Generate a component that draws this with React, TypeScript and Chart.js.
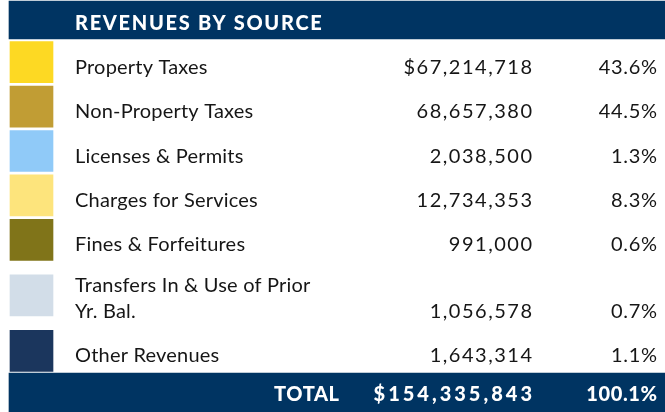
import React, { useEffect, useRef } from "react";
import { Chart, registerables } from "chart.js";

Chart.register(...registerables);

// ---- data ----
const title = "REVENUES BY SOURCE";
const categories: (string | string[])[] = [
  "Property Taxes",
  "Non-Property Taxes",
  "Licenses & Permits",
  "Charges for Services",
  "Fines & Forfeitures",
  ["Transfers In & Use of Prior", "Yr. Bal."],
  "Other Revenues",
];
const amounts = [67214718, 68657380, 2038500, 12734353, 991000, 1056578, 1643314];
const percents = [43.6, 44.5, 1.3, 8.3, 0.6, 0.7, 1.1];
const totalLabel = "TOTAL";
const totalAmount = 154335843;
const totalPercent = 100.1;

// ---- style ----
const swatchColors = ["#FDD923", "#C19D34", "#90CAF8", "#FDE47C", "#807419", "#D2DDE8", "#1B365D"];
const NAVY = "#003462";
const TEXT = "#161616";
const FONT = "Lato";

// ---- layout (canvas units) ----
const W = 665;
const H = 412;
const ROW_TOP = 40;
const ROW_UNIT = 44.4;
const LINE_H = 25.5;
const HEADER_BAND = { top: 1, bottom: 39 };
const TOTAL_BAND = { top: 373, bottom: 413 };
const TABLE_LEFT = 9;
const SWATCH_X = [10, 53];
const LABEL_X = 75;
const AMOUNT_RIGHT = 532;
const PCT_RIGHT = 657;
const TOTAL_LABEL_RIGHT = 339;

const rowLines = categories.map((c) => (Array.isArray(c) ? c.length : 1));
const rowCenters: number[] = [];
{
  let acc = ROW_TOP;
  rowLines.forEach((n) => {
    const h = ROW_UNIT * (1 + 0.5 * (n - 1));
    rowCenters.push(acc + h / 2);
    acc += h;
  });
}

const fmtAmount = (v: number, dollar: boolean) => (dollar ? "$" : "") + v.toLocaleString("en-US");
const fmtPct = (v: number) => v.toFixed(1) + "%";

function drawText(ctx: any, text: string, x: number, y: number, align: string, spacing: number) {
  ctx.letterSpacing = spacing + "px";
  ctx.textAlign = align;
  // letterSpacing adds trailing space after the last glyph; compensate for right alignment
  ctx.fillText(text, align === "right" ? x + spacing : x, y);
  ctx.letterSpacing = "0px";
}

const tablePlugin = {
  id: "tableText",
  afterDatasetsDraw(chart: any) {
    const { ctx } = chart;
    const xs = chart.scales.x;
    const ys = chart.scales.y;
    const px = (v: number) => xs.getPixelForValue(v);
    const py = (v: number) => ys.getPixelForValue(v);
    ctx.save();
    ctx.textBaseline = "alphabetic";

    // header title
    ctx.fillStyle = "#ffffff";
    ctx.font = `900 20px ${FONT}`;
    drawText(ctx, title, px(LABEL_X), py(29.5), "left", 1.7);

    // rows
    ctx.fillStyle = TEXT;
    ctx.font = `20px ${FONT}`;
    categories.forEach((cat, i) => {
      const lines = Array.isArray(cat) ? cat : [cat];
      const extra = lines.length - 1;
      const lastBase = rowCenters[i] + 11.5 + (extra * LINE_H) / 2 - extra * 2;
      lines.forEach((ln, j) => {
        drawText(ctx, ln, px(LABEL_X), py(lastBase - (lines.length - 1 - j) * LINE_H), "left", 0.2);
      });
      drawText(ctx, fmtAmount(amounts[i], i === 0), px(AMOUNT_RIGHT), py(lastBase), "right", 1.5);
      drawText(ctx, fmtPct(percents[i]), px(PCT_RIGHT), py(lastBase), "right", 0.7);
    });

    // total
    ctx.fillStyle = "#ffffff";
    ctx.font = `900 20px ${FONT}`;
    const tb = 400.5;
    drawText(ctx, totalLabel, px(TOTAL_LABEL_RIGHT), py(tb), "right", 0.6);
    drawText(ctx, fmtAmount(totalAmount, true), px(AMOUNT_RIGHT), py(tb), "right", 3);
    drawText(ctx, fmtPct(totalPercent), px(PCT_RIGHT), py(tb), "right", 0.6);
    ctx.restore();
  },
};

export default function App() {
  const ref = useRef<HTMLCanvasElement | null>(null);
  useEffect(() => {
    document.body.style.margin = "0";
    const canvas = ref.current!;
    const bandCenter = (b: { top: number; bottom: number }) => (b.top + b.bottom) / 2;
    const chart = new Chart(canvas, {
      type: "bar",
      data: {
        datasets: [
          {
            label: "header",
            data: [{ x: [TABLE_LEFT, W], y: bandCenter(HEADER_BAND) }] as any,
            backgroundColor: NAVY,
            barThickness: HEADER_BAND.bottom - HEADER_BAND.top,
            grouped: false,
          },
          {
            label: "swatches",
            data: rowCenters.map((c) => ({ x: SWATCH_X, y: c })) as any,
            backgroundColor: swatchColors,
            barThickness: 41,
            grouped: false,
          },
          {
            label: "total",
            data: [{ x: [TABLE_LEFT, W], y: bandCenter(TOTAL_BAND) }] as any,
            backgroundColor: NAVY,
            barThickness: TOTAL_BAND.bottom - TOTAL_BAND.top,
            grouped: false,
          },
        ] as any,
      },
      options: {
        indexAxis: "y",
        animation: false,
        responsive: false,
        devicePixelRatio: 1,
        layout: { padding: 0 },
        plugins: { legend: { display: false }, tooltip: { enabled: false }, title: { display: false } },
        scales: {
          x: { type: "linear", min: 0, max: W, display: false, offset: false, grace: 0 },
          y: { type: "linear", min: 0, max: H, reverse: true, display: false, offset: false, grace: 0 },
        },
      } as any,
      plugins: [tablePlugin],
    });
    return () => chart.destroy();
  }, []);
  return (
    <div style={{ width: W, height: H, background: "#ffffff" }}>
      <canvas ref={ref} width={W} height={H} style={{ display: "block" }} />
    </div>
  );
}
